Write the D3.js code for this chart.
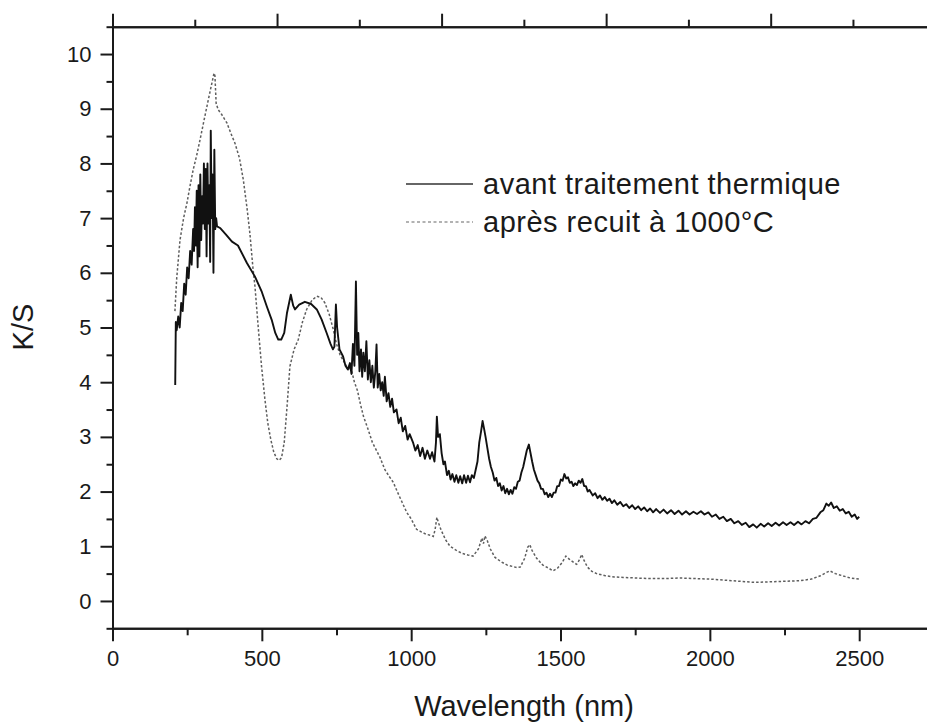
<!DOCTYPE html>
<html>
<head>
<meta charset="utf-8">
<script src="https://cdn.jsdelivr.net/npm/d3@7"></script>
<style>
  body { margin: 0; background: #fff; }
  svg text { font-family: "Liberation Sans", Arial, sans-serif; fill: #1a1a1a; }
  .axis path, .axis line { stroke: #1a1a1a; stroke-width: 2; }
  .axis text { font-size: 22px; }
</style>
</head>
<body>
<div id="chart"></div>
<script>
const width = 927
const height = 725

// K/S spectra, [wavelength nm, K/S]
const avant = [
  [210,3.95],[212,5.1],[215,4.95],[220,5.2],[225,5.0],[230,5.45],[235,5.3],[240,5.8],[245,5.6],
  [250,6.1],[255,5.9],[260,6.4],[265,6.15],[270,6.8],[273,6.4],[276,7.2],[279,6.5],[282,7.5],
  [285,6.1],[288,7.6],[291,6.3],[294,7.8],[297,6.6],[300,7.4],[303,6.9],[306,8.0],[309,6.8],
  [312,7.9],[315,6.3],[318,8.0],[321,6.9],[324,7.6],[327,6.2],[329,8.6],[332,7.0],[335,7.8],
  [338,6.0],[341,8.25],[344,6.8],[347,7.0],[350,6.85],[360,6.82],[380,6.7],[400,6.57],[420,6.5],
  [450,6.18],[477,5.93],[500,5.65],[517,5.38],[533,5.14],[545,4.9],[555,4.78],[565,4.78],[575,4.9],
  [584,5.26],[597,5.6],[605,5.4],[611,5.33],[625,5.42],[644,5.47],[665,5.43],[684,5.33],[700,5.15],
  [717,4.9],[730,4.7],[738,4.6],[743,4.65],[748,5.42],[752,5.0],[760,4.6],[772,4.47],[780,4.3],
  [788,4.23],[795,4.35],[800,4.15],[805,4.7],[810,4.3],[815,5.84],[819,4.5],[823,4.9],[827,4.2],
  [832,4.6],[836,4.1],[840,4.54],[845,4.2],[850,4.75],[855,4.05],[860,4.4],[865,4.0],[870,4.3],
  [875,3.9],[880,4.2],[884,4.69],[888,3.9],[893,4.15],[898,3.85],[903,4.0],[908,3.75],[912,4.1],
  [918,3.65],[924,3.8],[930,3.55],[936,3.7],[942,3.45],[951,3.5],[958,3.25],[965,3.35],[972,3.1],
  [980,3.2],[988,2.95],[995,3.05],[1006,2.9],[1014,2.75],[1022,2.85],[1030,2.65],[1038,2.8],
  [1046,2.6],[1054,2.75],[1063,2.6],[1070,2.72],[1078,2.55],[1083,2.9],[1086,3.37],[1090,3.0],
  [1096,3.05],[1102,2.7],[1108,2.5],[1113,2.55],[1120,2.3],[1126,2.38],[1132,2.22],[1138,2.32],
  [1145,2.18],[1151,2.3],[1158,2.16],[1164,2.28],[1171,2.15],[1177,2.3],[1184,2.16],[1190,2.29],
  [1197,2.17],[1203,2.3],[1210,2.25],[1216,2.4],[1222,2.55],[1228,2.9],[1234,3.1],[1239,3.29],
  [1244,3.15],[1249,3.0],[1255,2.8],[1261,2.6],[1267,2.45],[1273,2.35],[1279,2.2],[1285,2.25],
  [1291,2.1],[1297,2.15],[1303,2.02],[1309,2.1],[1315,1.97],[1321,2.05],[1327,1.95],[1333,2.03],
  [1339,1.96],[1345,2.08],[1351,2.05],[1357,2.18],[1363,2.2],[1369,2.35],[1375,2.45],[1381,2.6],
  [1387,2.75],[1394,2.86],[1399,2.72],[1405,2.55],[1411,2.4],[1417,2.3],[1423,2.2],[1429,2.15],
  [1435,2.05],[1441,2.05],[1447,1.95],[1453,1.98],[1459,1.9],[1465,1.96],[1471,1.9],[1477,1.98],
  [1483,1.98],[1489,2.1],[1495,2.1],[1501,2.22],[1507,2.2],[1513,2.32],[1519,2.24],[1525,2.26],
  [1531,2.16],[1537,2.18],[1543,2.1],[1549,2.15],[1555,2.12],[1561,2.2],[1567,2.16],[1573,2.23],
  [1579,2.1],[1585,2.1],[1591,2.0],[1597,2.03],[1608,1.93],[1616,1.97],[1624,1.88],[1632,1.93],
  [1640,1.85],[1648,1.9],[1656,1.83],[1664,1.87],[1672,1.79],[1680,1.84],[1690,1.76],[1700,1.81],
  [1710,1.73],[1720,1.77],[1730,1.7],[1740,1.75],[1750,1.68],[1760,1.73],[1770,1.66],[1780,1.71],
  [1790,1.64],[1800,1.69],[1810,1.62],[1820,1.68],[1833,1.61],[1845,1.67],[1857,1.6],[1870,1.66],
  [1882,1.59],[1895,1.65],[1907,1.58],[1920,1.64],[1932,1.58],[1945,1.63],[1957,1.59],[1970,1.64],
  [1982,1.58],[1995,1.62],[2007,1.54],[2020,1.58],[2032,1.5],[2045,1.54],[2057,1.46],[2070,1.5],
  [2082,1.42],[2095,1.46],[2107,1.39],[2120,1.43],[2132,1.35],[2145,1.4],[2157,1.34],[2170,1.41],
  [2182,1.36],[2195,1.42],[2207,1.37],[2220,1.43],[2232,1.38],[2245,1.44],[2257,1.39],[2270,1.44],
  [2282,1.39],[2295,1.45],[2307,1.4],[2320,1.46],[2332,1.42],[2345,1.5],[2357,1.52],[2370,1.62],
  [2380,1.66],[2390,1.78],[2398,1.74],[2406,1.8],[2415,1.7],[2425,1.73],[2435,1.65],[2445,1.68],
  [2455,1.6],[2465,1.63],[2475,1.54],[2485,1.58],[2493,1.5],[2500,1.54]
]

const apres = [
  [209,5.3],[215,5.9],[226,6.6],[238,7.0],[249,7.27],[260,7.6],[270,7.88],[282,8.15],[293,8.43],
  [305,8.75],[316,9.04],[328,9.35],[336,9.55],[340,9.65],[343,9.6],[347,9.1],[354,8.98],[365,8.9],
  [383,8.74],[400,8.5],[410,8.37],[425,8.1],[438,7.7],[450,7.2],[460,6.72],[470,6.1],[477,5.75],
  [488,5.0],[499,4.29],[510,3.7],[520,3.25],[530,2.95],[540,2.72],[550,2.6],[558,2.57],[566,2.62],
  [575,2.9],[585,3.6],[594,4.29],[608,4.6],[622,4.78],[636,5.1],[650,5.33],[668,5.5],[684,5.57],
  [698,5.55],[711,5.45],[725,5.25],[738,4.99],[750,4.7],[762,4.5],[772,4.4],[784,4.29],[795,4.25],
  [801,4.2],[810,4.0],[820,3.85],[830,3.6],[840,3.38],[855,3.15],[870,2.9],[884,2.75],[896,2.62],
  [912,2.4],[926,2.28],[940,2.17],[955,1.98],[970,1.8],[985,1.62],[1000,1.5],[1018,1.31],[1035,1.26],
  [1050,1.22],[1065,1.2],[1074,1.18],[1080,1.3],[1086,1.53],[1092,1.42],[1100,1.3],[1115,1.12],
  [1130,1.0],[1150,0.93],[1170,0.87],[1190,0.84],[1207,0.82],[1225,0.95],[1237,1.15],[1242,1.05],
  [1247,1.19],[1255,1.1],[1265,0.95],[1280,0.8],[1300,0.72],[1320,0.66],[1340,0.63],[1354,0.61],
  [1365,0.62],[1380,0.78],[1390,0.98],[1397,1.03],[1405,0.92],[1420,0.78],[1440,0.66],[1460,0.6],
  [1475,0.55],[1490,0.6],[1505,0.7],[1518,0.82],[1530,0.76],[1545,0.7],[1554,0.67],[1563,0.75],
  [1571,0.85],[1578,0.75],[1590,0.62],[1605,0.54],[1621,0.5],[1650,0.46],[1680,0.44],[1710,0.43],
  [1750,0.42],[1800,0.41],[1850,0.41],[1900,0.42],[1950,0.41],[2000,0.4],[2050,0.38],[2100,0.36],
  [2150,0.34],[2200,0.35],[2250,0.36],[2300,0.37],[2340,0.4],[2370,0.46],[2390,0.52],[2402,0.55],
  [2420,0.5],[2445,0.46],[2470,0.42],[2500,0.40]
]

const seriesNames = ["avant traitement thermique", "après recuit à 1000°C"]
const xTicks = [0, 500, 1000, 1500, 2000, 2500]
const xMinor = [250, 750, 1250, 1750, 2250, 2750]
const yTicks = [0, 1, 2, 3, 4, 5, 6, 7, 8, 9, 10]
const yMinor = [-0.5, 0.5, 1.5, 2.5, 3.5, 4.5, 5.5, 6.5, 7.5, 8.5, 9.5, 10.5]
const topTicks = [0, 1, 2, 3, 4]
const topMinor = [0.5, 1.5, 2.5, 3.5, 4.5]

let x = d3.scaleLinear().domain([0, 2727]).range([112.5, 927])
let y = d3.scaleLinear().domain([-0.5, 10.5]).range([628.3, 26.7])
// top axis carries ticks only, no labels
let xTop = d3.scaleLinear().domain([0, 4.95]).range([112.5, 927])

let svg = d3.select("#chart")
            .append("svg")
            .attr("width", width)
            .attr("height", height)

let line = d3.line()
             .x(d => x(d[0]))
             .y(d => y(d[1]))

svg.append("path")
   .datum(apres)
   .attr("fill", "none")
   .attr("stroke", "#5e5e5e")
   .attr("stroke-width", 1.5)
   .attr("stroke-dasharray", "2.5,2")
   .attr("d", line)

svg.append("path")
   .datum(avant)
   .attr("fill", "none")
   .attr("stroke", "#111")
   .attr("stroke-width", 1.9)
   .attr("stroke-linejoin", "round")
   .attr("d", line)

// axes
svg.append("g").attr("class", "axis")
   .attr("transform", "translate(0," + y(-0.5) + ")")
   .call(d3.axisBottom(x).tickValues(xTicks).tickSize(13).tickSizeOuter(0).tickPadding(9).tickFormat(d3.format("d")))
svg.append("g").attr("class", "axis")
   .attr("transform", "translate(0," + y(-0.5) + ")")
   .call(d3.axisBottom(x).tickValues(xMinor).tickSize(7).tickSizeOuter(0).tickFormat(""))

svg.append("g").attr("class", "axis")
   .attr("transform", "translate(" + x(0) + ",0)")
   .call(d3.axisLeft(y).tickValues(yTicks).tickSize(12).tickSizeOuter(0).tickPadding(9).tickFormat(d3.format("d")))
svg.append("g").attr("class", "axis")
   .attr("transform", "translate(" + x(0) + ",0)")
   .call(d3.axisLeft(y).tickValues(yMinor).tickSize(6).tickSizeOuter(0).tickFormat(""))

svg.append("g").attr("class", "axis")
   .attr("transform", "translate(0," + y(10.5) + ")")
   .call(d3.axisTop(xTop).tickValues(topTicks).tickSize(13).tickSizeOuter(0).tickFormat(""))
svg.append("g").attr("class", "axis")
   .attr("transform", "translate(0," + y(10.5) + ")")
   .call(d3.axisTop(xTop).tickValues(topMinor).tickSize(7).tickSizeOuter(0).tickFormat(""))

svg.selectAll(".axis .domain").attr("stroke-linecap", "square")

// axis titles
svg.append("text")
   .attr("x", 524)
   .attr("y", 716)
   .attr("text-anchor", "middle")
   .style("font-size", "29px")
   .text("Wavelength (nm)")

svg.append("text")
   .attr("transform", "translate(33," + 327 + ") rotate(-90)")
   .attr("text-anchor", "middle")
   .style("font-size", "29px")
   .text("K/S")

// legend
let legend = svg.append("g").attr("id", "legend")
let styles = [{stroke: "#333", dash: null, w: 1.5}, {stroke: "#999", dash: "3,2.5", w: 1.6}]
seriesNames.forEach(function(name, i) {
  let ly = 184 + i * 38
  legend.append("line")
        .attr("x1", 406).attr("x2", 473)
        .attr("y1", ly).attr("y2", ly)
        .attr("stroke", styles[i].stroke)
        .attr("stroke-width", styles[i].w)
        .attr("stroke-dasharray", styles[i].dash)
  legend.append("text")
        .attr("x", 483)
        .attr("y", ly + 9.5)
        .style("font-size", "29px")
        .style("letter-spacing", "0.5px")
        .text(name)
})
</script>
</body>
</html>
